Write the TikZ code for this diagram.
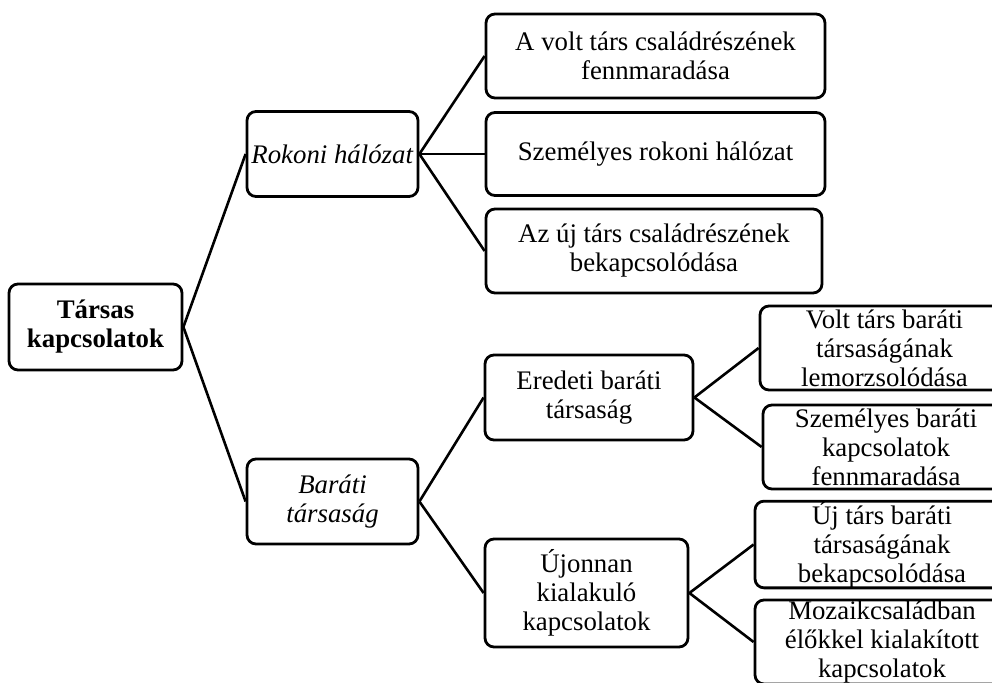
\documentclass[tikz,border=0pt]{standalone}
\usepackage{fontspec}
\setmainfont{Liberation Serif}
\begin{document}
\begin{tikzpicture}[x=1pt,y=-1pt,
  box/.style={draw=black, line width=2.8pt, rounded corners=9pt, align=center,
    inner sep=0pt, font=\fontsize{26.8}{29}\selectfont},
  link/.style={draw=black, line width=2.6pt}]
\useasboundingbox (0,0) rectangle (992,682);
\clip (0,0) rectangle (992,682);
% nodes
\node[box, minimum width=173pt, minimum height=86pt] (root) at (95.5,327) {\textbf{Társas}\\\textbf{kapcsolatok}};
\node[box, minimum width=171pt, minimum height=85pt] (rokoni) at (332.5,154) {\textit{Rokoni hálózat}};
\node[box, minimum width=171pt, minimum height=85pt] (barati) at (332.5,501.5) {\textit{Baráti}\\\textit{társaság}};
\node[box, minimum width=339pt, minimum height=84pt] (a1) at (655.5,56) {A volt társ családrészének\\fennmaradása};
\node[box, minimum width=339pt, minimum height=83pt] (a2) at (655.5,154) {Személyes rokoni hálózat};
\node[box, minimum width=336pt, minimum height=84pt] (a3) at (654,251) {Az új társ családrészének\\bekapcsolódása};
\node[box, minimum width=208pt, minimum height=85pt] (b1) at (589,397.5) {Eredeti baráti\\társaság};
\node[box, minimum width=203pt, minimum height=108pt] (b2) at (586.5,593) {Újonnan\\kialakuló\\kapcsolatok};
\node[box, minimum width=249pt, minimum height=84pt] (c1) at (884.5,348) {Volt társ baráti\\társaságának\\lemorzsolódása};
\node[box, minimum width=246pt, minimum height=84pt] (c2) at (886,447) {Személyes baráti\\kapcsolatok\\fennmaradása};
\node[box, minimum width=254pt, minimum height=85pt] (c3) at (882,544.5) {Új társ baráti\\társaságának\\bekapcsolódása};
\node[box, minimum width=254pt, minimum height=84pt] (c4) at (882,642) {Mozaikcsaládban\\élőkkel kialakított\\kapcsolatok};
% connectors
\draw[link] (root.east) -- (rokoni.west);
\draw[link] (root.east) -- (barati.west);
\draw[link] (rokoni.east) -- (a1.west);
\draw[link] (rokoni.east) -- (a2.west);
\draw[link] (rokoni.east) -- (a3.west);
\draw[link] (barati.east) -- (b1.west);
\draw[link] (barati.east) -- (b2.west);
\draw[link] (b1.east) -- (c1.west);
\draw[link] (b1.east) -- (c2.west);
\draw[link] (b2.east) -- (c3.west);
\draw[link] (b2.east) -- (c4.west);
\end{tikzpicture}
\end{document}
